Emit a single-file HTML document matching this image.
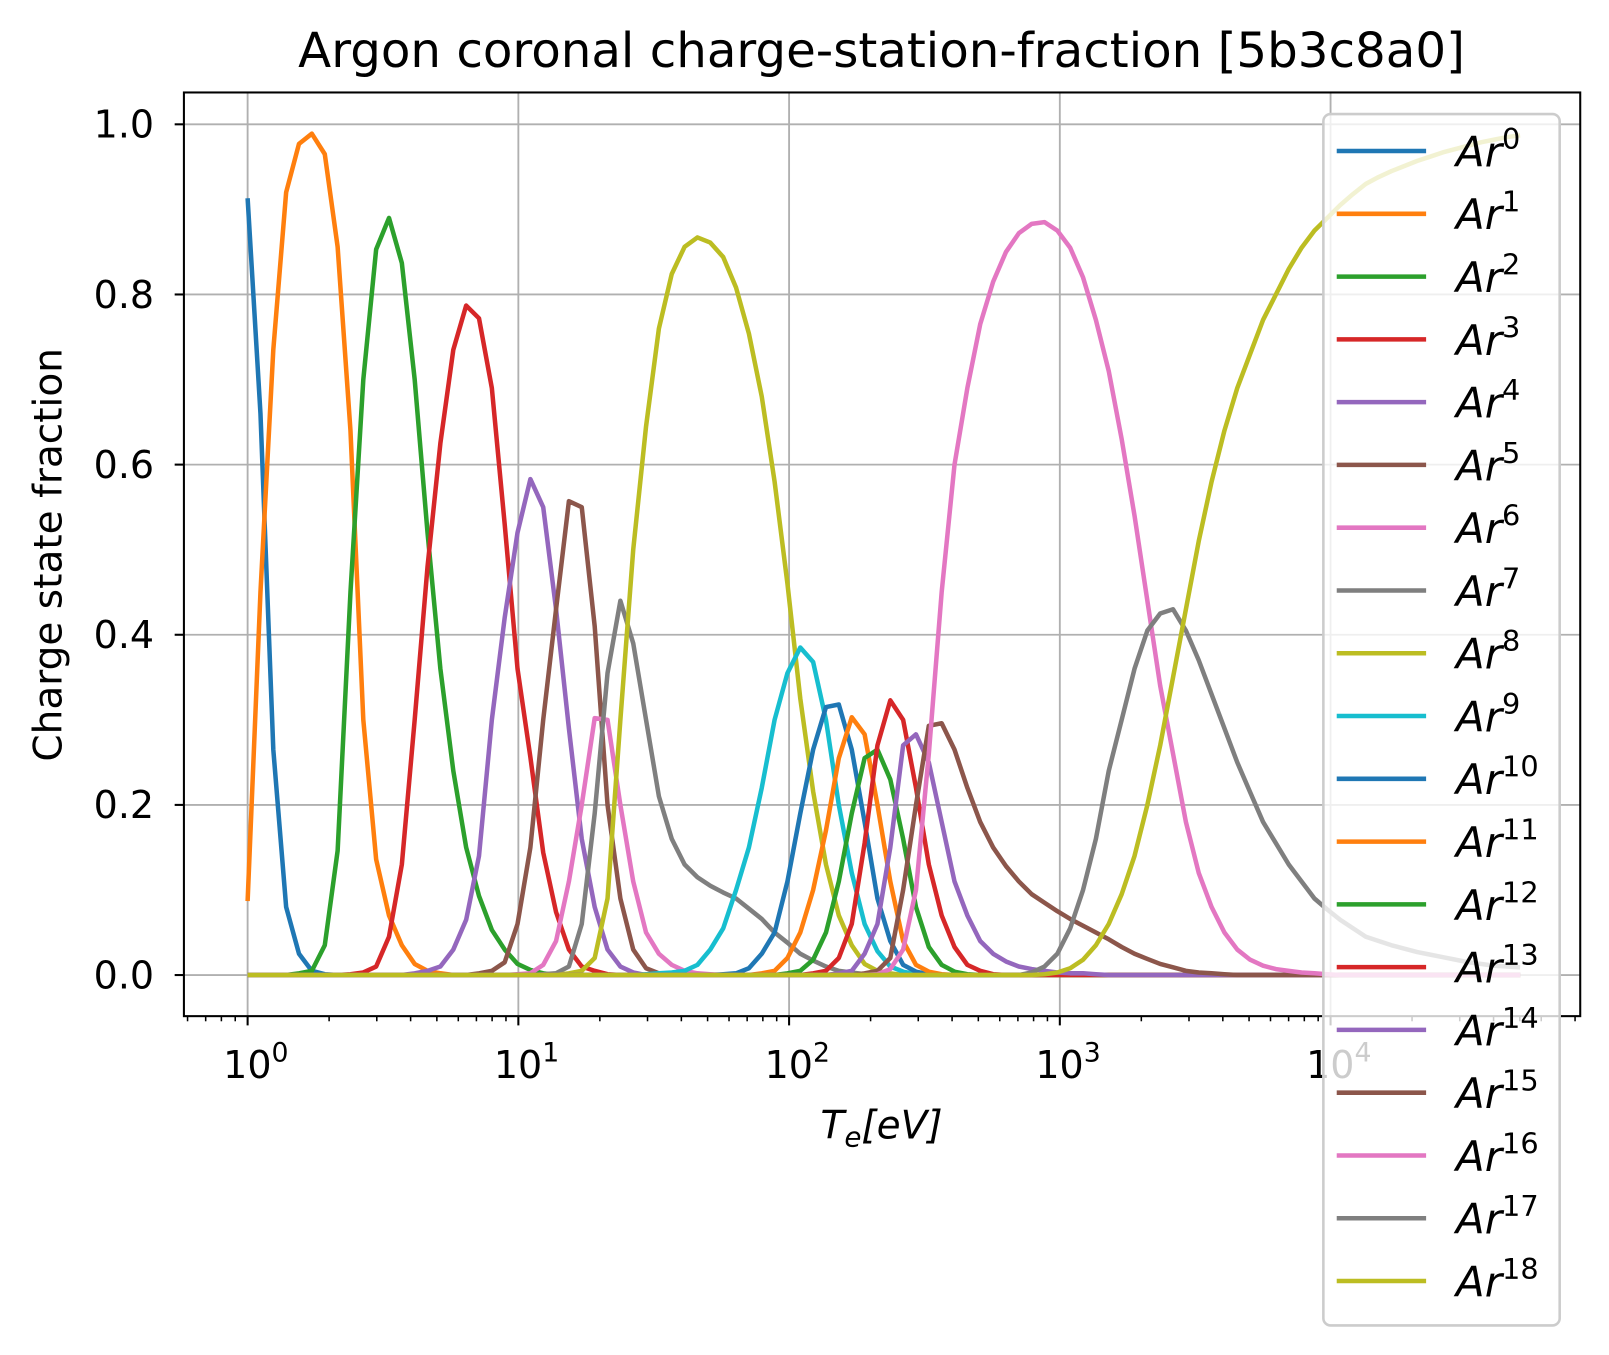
<!DOCTYPE html>
<html><head><meta charset="utf-8"><style>
html,body{margin:0;padding:0;background:#fff;}
svg{display:block;font-family:"DejaVu Sans","Liberation Sans",sans-serif;}
</style></head><body>
<svg id="chart" width="1609" height="1355" viewBox="0 0 1566 1318.8" preserveAspectRatio="none" xmlns="http://www.w3.org/2000/svg">
<rect x="0" y="0" width="1566" height="1319" fill="#fff"/>
<text x="858" y="65" font-size="47" text-anchor="middle">Argon coronal charge-station-fraction [5b3c8a0]</text>
<g id="grid"></g><g id="series"></g><g id="axes"></g><g id="legend"></g>
<text transform="translate(60,540) rotate(-90)" font-size="38" text-anchor="middle">Charge state fraction</text>
<text x="858" y="1108" font-size="38" text-anchor="middle" font-style="italic">T<tspan font-size="27" dy="8">e</tspan><tspan dy="-8">[eV]</tspan></text>
</svg>
<script>
const NS="http://www.w3.org/2000/svg";
// log10(T) grid (100 log-spaced temperatures from 1 eV to ~5e4 eV)
const logTMax = 4.7;
const nPoints = 100;
const seriesNames = ["Ar0","Ar1","Ar2","Ar3","Ar4","Ar5","Ar6","Ar7","Ar8","Ar9","Ar10","Ar11","Ar12","Ar13","Ar14","Ar15","Ar16","Ar17","Ar18"];
const seriesStart = [0,0,4,8,13,18,21,23,25,31,37,40,42,44,46,48,49,61,62];
const seriesValues = [
[0.913,0.66,0.265,0.08,0.025,0.005,0.001],
[0.087,0.45,0.735,0.92,0.977,0.989,0.965,0.856,0.64,0.30,0.136,0.07,0.035,0.013,0.005,0.002],
[0.002,0.005,0.035,0.146,0.45,0.70,0.853,0.89,0.837,0.70,0.52,0.36,0.24,0.15,0.093,0.053,0.03,0.013,0.006,0.002],
[0.001,0.003,0.01,0.045,0.13,0.30,0.48,0.625,0.735,0.787,0.772,0.69,0.53,0.36,0.256,0.144,0.074,0.03,0.01,0.005,0.001],
[0.002,0.005,0.01,0.03,0.065,0.14,0.3,0.42,0.52,0.583,0.55,0.43,0.29,0.16,0.08,0.03,0.01,0.003],
[0.002,0.005,0.015,0.06,0.15,0.3,0.43,0.557,0.55,0.41,0.2,0.09,0.03,0.008,0.002],
[0.001,0.002,0.012,0.04,0.11,0.2,0.302,0.3,0.2,0.11,0.05,0.025,0.012,0.005,0.002,0.001],
[0.001,0.002,0.01,0.06,0.19,0.355,0.44,0.39,0.3,0.21,0.16,0.13,0.115,0.105,0.097,0.09,0.078,0.066,0.05,0.038,0.025,0.017,0.01,0.005,0.003,0.001],
[0.002,0.005,0.02,0.09,0.3,0.5,0.645,0.76,0.824,0.856,0.867,0.861,0.844,0.808,0.754,0.68,0.58,0.46,0.325,0.216,0.13,0.07,0.035,0.013,0.005,0.002],
[0.001,0.002,0.003,0.005,0.012,0.03,0.055,0.1,0.15,0.22,0.3,0.355,0.385,0.368,0.3,0.2,0.12,0.06,0.028,0.01,0.004,0.001],
[0.001,0.002,0.008,0.025,0.05,0.11,0.19,0.265,0.315,0.318,0.265,0.18,0.09,0.04,0.012,0.004,0.001],
[0.002,0.005,0.02,0.05,0.1,0.17,0.255,0.303,0.283,0.2,0.11,0.04,0.012,0.004,0.001],
[0.002,0.005,0.018,0.05,0.11,0.19,0.255,0.265,0.23,0.16,0.08,0.033,0.012,0.004,0.001],
[0.002,0.005,0.02,0.06,0.155,0.27,0.323,0.3,0.22,0.13,0.07,0.033,0.012,0.005,0.001],
[0.002,0.005,0.025,0.06,0.15,0.27,0.283,0.25,0.18,0.11,0.07,0.04,0.025,0.016,0.01,0.007,0.005,0.003,0.002,0.002,0.001],
[0.002,0.005,0.02,0.1,0.2,0.293,0.296,0.265,0.22,0.18,0.15,0.128,0.11,0.095,0.085,0.075,0.066,0.058,0.05,0.042,0.033,0.025,0.019,0.013,0.009,0.005,0.003,0.002,0.001],
[0.001,0.007,0.03,0.1,0.26,0.45,0.6,0.69,0.765,0.815,0.85,0.872,0.883,0.885,0.875,0.855,0.82,0.77,0.71,0.63,0.54,0.44,0.34,0.26,0.18,0.12,0.08,0.05,0.03,0.018,0.011,0.007,0.005,0.003,0.002,0.001],
[0.003,0.01,0.025,0.055,0.1,0.16,0.24,0.3,0.36,0.405,0.425,0.43,0.405,0.37,0.33,0.29,0.25,0.215,0.18,0.155,0.13,0.11,0.09,0.077,0.065,0.055,0.045,0.04,0.035,0.031,0.027,0.024,0.021,0.018,0.015,0.013,0.011,0.01,0.009],
[0.001,0.003,0.008,0.018,0.035,0.06,0.095,0.14,0.2,0.27,0.35,0.43,0.51,0.58,0.64,0.69,0.73,0.77,0.80,0.83,0.855,0.875,0.89,0.905,0.918,0.93,0.938,0.945,0.951,0.957,0.962,0.967,0.971,0.975,0.979,0.982,0.985,0.987]
];
const superscripts = ["0","1","2","3","4","5","6","7","8","9","10","11","12","13","14","15","16","17","18"];
const yTicks = [0,0.2,0.4,0.6,0.8,1.0];
const yTickLabels = ["0.0","0.2","0.4","0.6","0.8","1.0"];
const xDecades = [0,1,2,3,4];
const colors=["#1f77b4","#ff7f0e","#2ca02c","#d62728","#9467bd","#8c564b","#e377c2","#7f7f7f","#bcbd22","#17becf"];

const L=179,R=1538,T=90,B=989;
const xScale=lt=>241+lt*263.5;
const yScale=v=>949-v*828;
function mk(tag,attrs,parent){const e=document.createElementNS(NS,tag);for(const k in attrs)e.setAttribute(k,attrs[k]);parent.appendChild(e);return e;}
const grid=document.getElementById('grid'),axes=document.getElementById('axes'),ser=document.getElementById('series'),leg=document.getElementById('legend');

xDecades.forEach(d=>{
  const x=xScale(d);
  const g=mk('line',{x1:x,x2:x,y1:T,y2:B,stroke:'#b0b0b0','stroke-width':1.8},grid);
  
  
  const t=mk('line',{x1:x,x2:x,y1:B,y2:B+9,stroke:'#000','stroke-width':2},axes);
  
  
  const lb=mk('text',{x:x+8,y:1049,'font-size':37,'text-anchor':'middle'},axes);
  
  
  lb.innerHTML='10<tspan font-size="26" dy="-16">'+d+'</tspan>';
});
for(let d=-1;d<=4;d++){for(let m=2;m<=9;m++){const lt=d+Math.log10(m);const x=xScale(lt);if(x<L||x>R)continue;
  const t=mk('line',{x1:x,x2:x,y1:B,y2:B+5,stroke:'#000','stroke-width':1.5},axes);
  
  }}
yTicks.forEach((v,i)=>{
  const y=yScale(v);
  const g=mk('line',{x1:L,x2:R,y1:y,y2:y,stroke:'#b0b0b0','stroke-width':1.8},grid);
  
  
  const t=mk('line',{x1:L-9,x2:L,y1:y,y2:y,stroke:'#000','stroke-width':2},axes);
  
  
  const lb=mk('text',{x:150,y:y+13,'font-size':37,'text-anchor':'end'},axes);
  
  
  lb.textContent=yTickLabels[i];
});
const frame=mk('rect',{x:L,y:T,width:R-L,height:B-T,fill:'none',stroke:'#000','stroke-width':2},axes);



seriesValues.forEach((vals,s)=>{
  const pts=[];
  for(let i=0;i<nPoints;i++){
    const j=i-seriesStart[s];
    const v=(j>=0&&j<vals.length)?vals[j]:0;
    const lt=i*logTMax/(nPoints-1);
    pts.push(xScale(lt).toFixed(1)+','+yScale(v).toFixed(1));
  }
  const p=mk('polyline',{points:pts.join(' '),fill:'none',stroke:colors[s%10],'stroke-width':4.4,'stroke-linejoin':'round'},ser);
  
  
});

const box=mk('rect',{x:1288,y:111,width:230,height:1179,rx:7,fill:'#fff','fill-opacity':0.8,stroke:'#cccccc','stroke-width':2.5},leg);


seriesNames.forEach((n,s)=>{
  const y=147+s*61.1;
  const g=mk('g',{},leg);
  
  
  mk('line',{x1:1301,x2:1388,y1:y,y2:y,stroke:colors[s%10],'stroke-width':4.4},g);
  const t=mk('text',{x:1417,y:y+15,'font-size':41},g);
  t.innerHTML='<tspan font-style="italic">Ar</tspan><tspan font-size="28" dy="-17">'+superscripts[s]+'</tspan>';
});
</script>
</body></html>
